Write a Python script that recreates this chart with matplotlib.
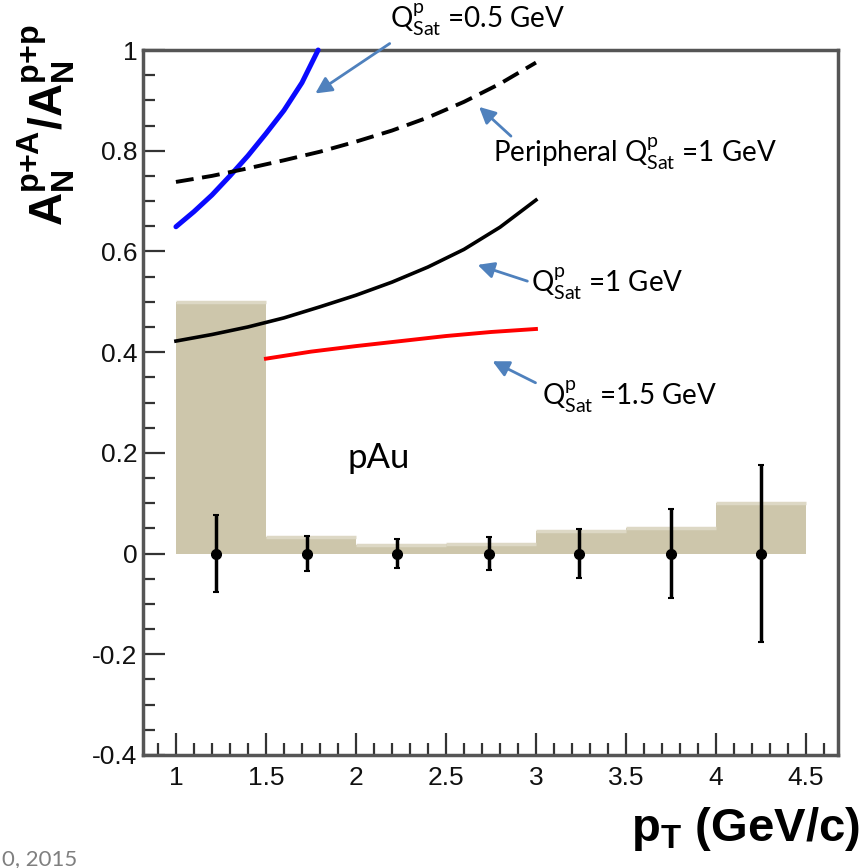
import numpy as np
import matplotlib
matplotlib.use("Agg")
import matplotlib.pyplot as plt
from matplotlib.ticker import MultipleLocator, FuncFormatter

plt.rcParams['axes.unicode_minus'] = False
plt.rcParams['mathtext.fontset'] = 'custom'
plt.rcParams['mathtext.rm'] = 'Lato'
plt.rcParams['mathtext.it'] = 'Lato:italic'
plt.rcParams['mathtext.bf'] = 'Liberation Sans:bold'
plt.rcParams['mathtext.sf'] = 'Liberation Sans'

# systematic band (histogram) per pT bin
bin_edges = [1.0, 1.5, 2.0, 2.5, 3.0, 3.5, 4.0, 4.5]
band_height = [0.50, 0.033, 0.017, 0.020, 0.045, 0.050, 0.100]

# pAu data points
pt_points = [1.22, 1.73, 2.23, 2.74, 3.24, 3.75, 4.25]
ratio_points = [0.0, 0.0, 0.0, 0.0, 0.0, 0.0, 0.0]
ratio_err = [0.077, 0.035, 0.029, 0.033, 0.049, 0.088, 0.175]

# theory curves
pt_q05 = [1.0, 1.1, 1.2, 1.3, 1.4, 1.5, 1.6, 1.7, 1.79]
ratio_q05 = [0.649, 0.679, 0.712, 0.750, 0.790, 0.834, 0.880, 0.935, 1.0]

pt_periph = [1.0, 1.2, 1.4, 1.6, 1.8, 2.0, 2.2, 2.4, 2.6, 2.8, 3.0]
ratio_periph = [0.738, 0.750, 0.765, 0.781, 0.798, 0.818, 0.840, 0.866, 0.897, 0.933, 0.975]

pt_q1 = [1.0, 1.2, 1.4, 1.6, 1.8, 2.0, 2.2, 2.4, 2.6, 2.8, 3.0]
ratio_q1 = [0.422, 0.435, 0.450, 0.468, 0.490, 0.513, 0.539, 0.569, 0.604, 0.648, 0.702]

pt_q15 = [1.5, 1.75, 2.0, 2.25, 2.5, 2.75, 3.0]
ratio_q15 = [0.387, 0.401, 0.412, 0.422, 0.432, 0.440, 0.446]

x_ticks = [1, 1.5, 2, 2.5, 3, 3.5, 4, 4.5]
y_ticks = [-0.4, -0.2, 0, 0.2, 0.4, 0.6, 0.8, 1.0]

W, H = 864, 868
fig = plt.figure(figsize=(W / 100, H / 100), dpi=100)
ax = fig.add_axes([143 / W, 1 - 755 / H, (838 - 143) / W, (755 - 50) / H])

band_color = '#cdc6ab'
ax.bar(bin_edges[:-1], band_height, width=np.diff(bin_edges), align='edge',
       color=band_color, edgecolor='none', zorder=1)
ax.hlines(band_height, bin_edges[:-1], bin_edges[1:], color='#ddd8c5', lw=2.5, zorder=1.5)

ax.plot(pt_q05, ratio_q05, color='#0a0aff', lw=3.6, solid_capstyle='round',
        solid_joinstyle='round', zorder=3, clip_on=False)
ax.plot(pt_periph, ratio_periph, color='black', lw=2.8, ls=(0, (4.6, 2.2)), zorder=3)
ax.plot(pt_q1, ratio_q1, color='black', lw=2.6, solid_joinstyle='round', zorder=3)
ax.plot(pt_q15, ratio_q15, color='#ff0000', lw=2.8, zorder=3)

ax.errorbar(pt_points, ratio_points, yerr=ratio_err, fmt='o', color='black',
            ms=7, elinewidth=2.5, capsize=2, capthick=1.5, zorder=4)

ax.set_xlim(0.817, 4.678)
ax.set_ylim(-0.4, 1.0)

ax.set_xticks(x_ticks)
ax.set_yticks(y_ticks)
ax.xaxis.set_minor_locator(MultipleLocator(0.1))
ax.yaxis.set_minor_locator(MultipleLocator(0.05))
fmt = FuncFormatter(lambda v, p: ('%g' % round(v, 2)))
ax.xaxis.set_major_formatter(fmt)
ax.yaxis.set_major_formatter(fmt)
ax.tick_params(which='both', direction='in', top=False, right=False,
               color='#333333', width=1.6, labelsize=19, labelcolor='#111111')
ax.tick_params(which='major', length=16)
ax.tick_params(which='minor', length=8.5)
ax.tick_params(axis='x', pad=8)
ax.tick_params(axis='y', pad=4)
for lab in ax.get_xticklabels() + ax.get_yticklabels():
    lab.set_family('Liberation Sans')

for side, sp in ax.spines.items():
    sp.set_color('#555555')
    sp.set_linewidth(2.5)

# axis titles
fig.text(46 / W, 1 - 125 / H, r'$\mathbf{A_N^{p{+}A}/A_N^{p{+}p}}$', rotation=90,
         ha='center', va='center', fontsize=33)
fig.text(860 / W, 1 - 829 / H, r'$\mathbf{p_T}$ (GeV/c)', ha='right', va='center',
         fontsize=34, fontweight='bold', family='Liberation Sans')

fig.text(2 / W, 1 - 865 / H, '0, 2015', ha='left', va='baseline', fontsize=16,
         color='#7f7f7f', family='Lato')

# annotations
arrow_kw = dict(arrowstyle='-|>,head_length=0.7,head_width=0.35', color='#4f81bd', lw=2)
ann_font = dict(family='Lato', fontsize=20, color='black')

def label(txt, xy_px):
    fig.text(xy_px[0] / W, 1 - xy_px[1] / H, txt, ha='left', va='baseline', **ann_font)

def arrow(tail_px, head_px):
    fig.add_artist(matplotlib.patches.FancyArrowPatch(
        (tail_px[0] / W, 1 - tail_px[1] / H), (head_px[0] / W, 1 - head_px[1] / H),
        transform=fig.transFigure, mutation_scale=14, **arrow_kw))

label(r'Q$^{\rm p}_{\rm Sat}$ =0.5 GeV', (390, 28))
arrow((392, 42), (313, 95))
label(r'Peripheral Q$^{\rm p}_{\rm Sat}$ =1 GeV', (493, 163))
arrow((513, 138), (477, 105))
label(r'Q$^{\rm p}_{\rm Sat}$ =1 GeV', (531, 292))
arrow((530, 282), (475, 264))
label(r'Q$^{\rm p}_{\rm Sat}$ =1.5 GeV', (542, 405))
arrow((538, 384), (490, 360))

fig.text(348 / W, 1 - 468 / H, 'pAu', ha='left', va='baseline', family='Lato', fontsize=25)

fig.savefig('out.png', dpi=100)
